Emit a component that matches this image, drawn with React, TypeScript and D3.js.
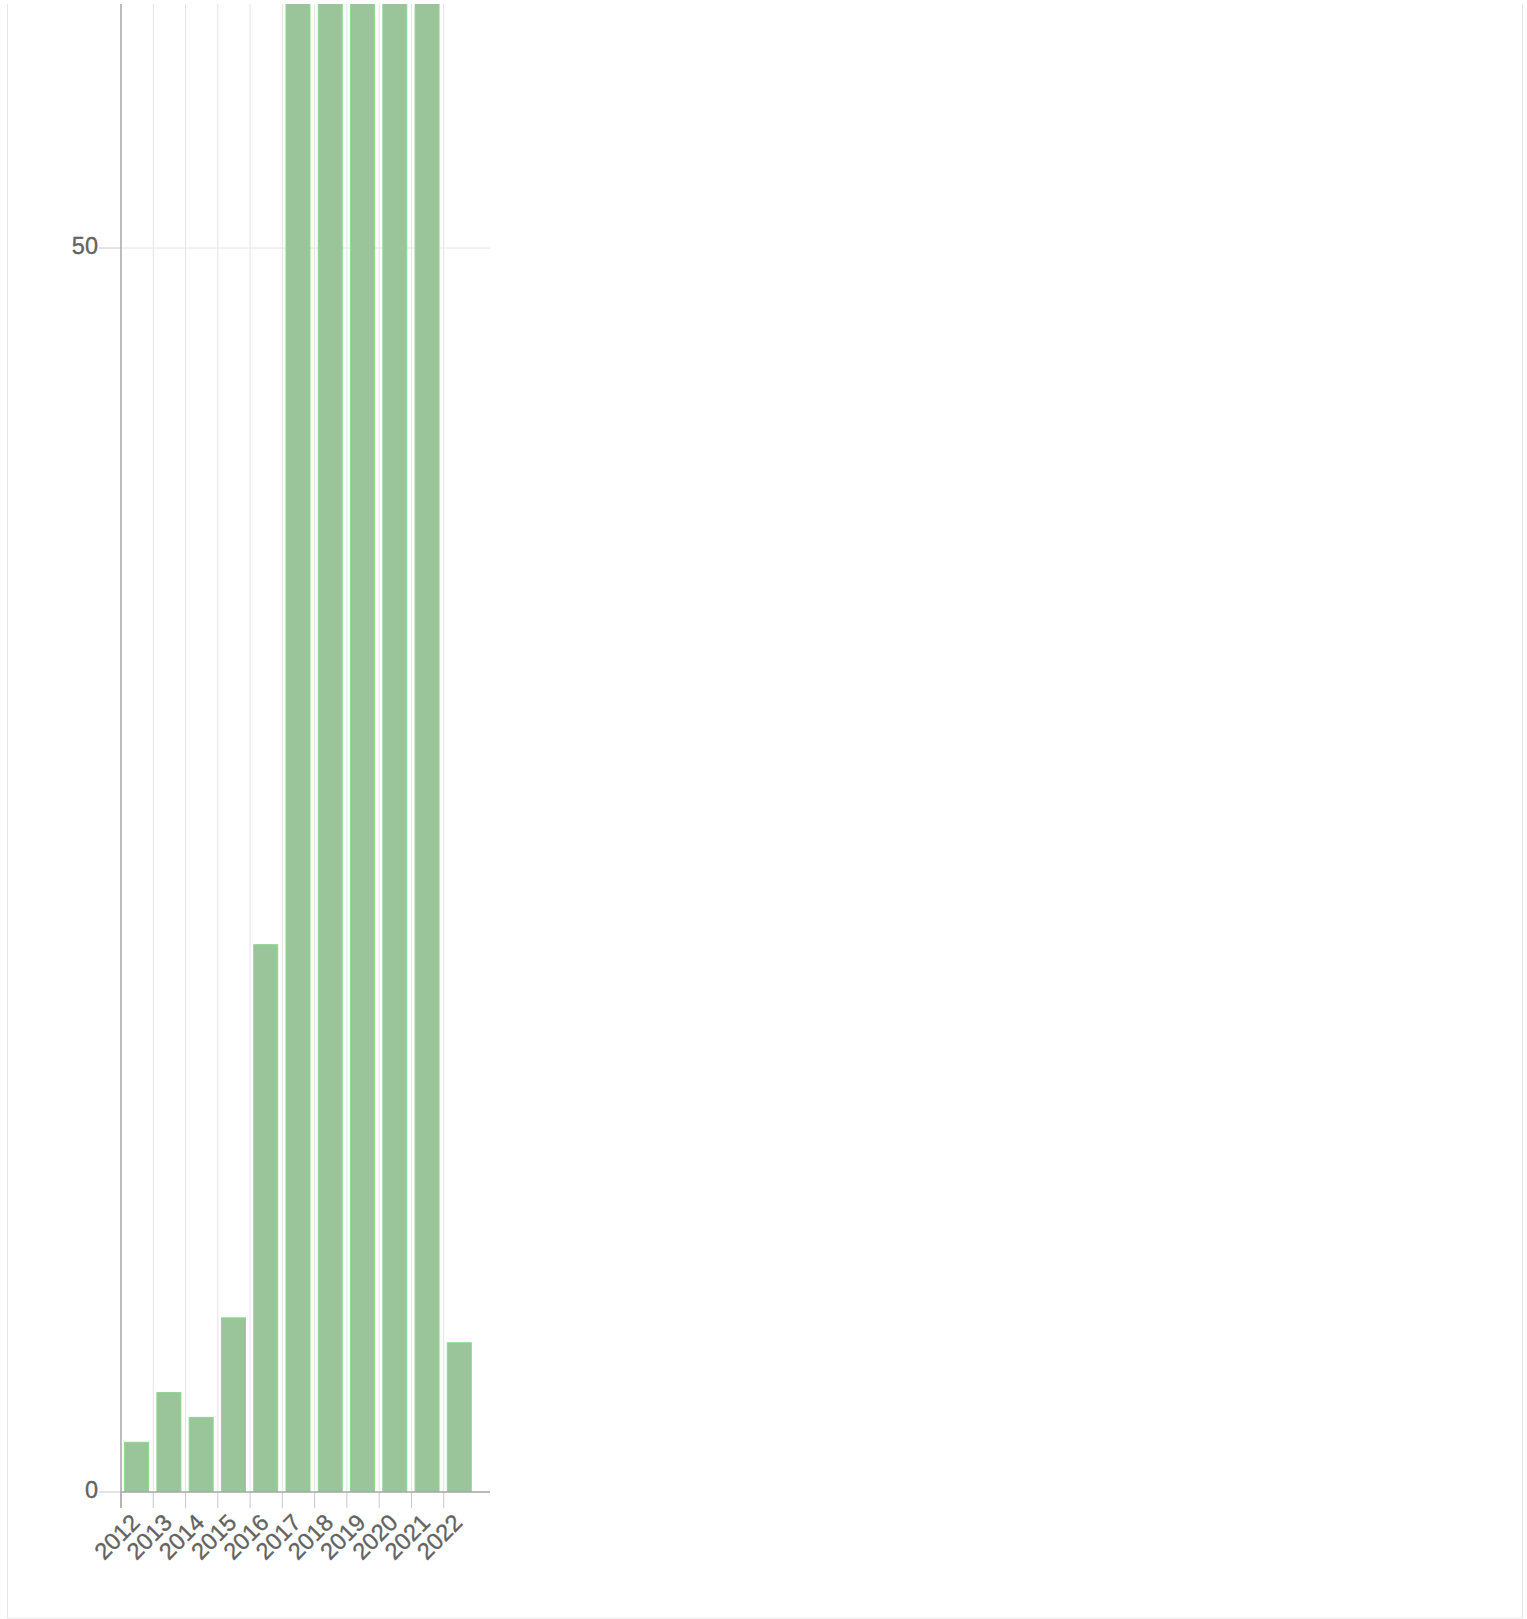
import React from "react";
import * as d3 from "d3";

const years = ["2012", "2013", "2014", "2015", "2016", "2017", "2018", "2019", "2020", "2021", "2022"];
const counts = [2, 4, 3, 7, 22, 75, 90, 100, 95, 85, 6];
const yTicks = [0, 50];

const W = 1527;
const H = 1619;

export default function App() {
  const plotLeft = 121;
  const plotRight = 490;
  const plotTop = 4;
  const plotBottom = 1492;
  const step = 32.27;

  const x = d3
    .scaleBand<string>()
    .domain(years)
    .range([plotLeft, plotLeft + step * years.length])
    .paddingInner(0.256)
    .paddingOuter(0.128);

  const y = d3.scaleLinear().domain([0, 50]).range([plotBottom, 248]);

  const boundary = (i: number) => plotLeft + i * x.step();
  const font = "'Liberation Sans', Arial, sans-serif";
  const textColor = "#636363";

  return (
    <svg
      width={W}
      height={H}
      style={{ position: "absolute", left: 0, top: 0, background: "#fff" }}
    >
      <defs>
        <clipPath id="plotclip">
          <rect x={plotLeft} y={plotTop} width={plotRight - plotLeft} height={plotBottom - plotTop} />
        </clipPath>
      </defs>
      {/* outer frame */}
      <line x1={7.5} x2={7.5} y1={4} y2={1618} stroke="#e6e6e6" />
      <line x1={1522.5} x2={1522.5} y1={4} y2={1618} stroke="#e6e6e6" />
      <line x1={7.5} x2={1522.5} y1={1618} y2={1618} stroke="#e6e6e6" />

      {/* vertical gridlines + ticks */}
      {years.map((yr, i) => (
        <g key={"g" + yr}>
          {i > 0 && (
            <line
              x1={boundary(i)}
              x2={boundary(i)}
              y1={plotTop}
              y2={plotBottom}
              stroke="#e4e4e4"
              strokeWidth={1}
            />
          )}
          <line
            x1={boundary(i)}
            x2={boundary(i)}
            y1={plotBottom}
            y2={plotBottom + 16}
            stroke="#c8c8c8"
            strokeWidth={1}
          />
        </g>
      ))}

      {/* horizontal gridlines & y ticks */}
      {yTicks.map((t) => (
        <g key={"yt" + t}>
          {t !== 0 && (
            <line x1={plotLeft} x2={plotRight} y1={y(t)} y2={y(t)} stroke="#e4e4e4" strokeWidth={1} />
          )}
          <line x1={99} x2={plotLeft} y1={y(t)} y2={y(t)} stroke="#c8c8c8" strokeWidth={1} />
          <text
            x={98}
            y={y(t) - 2}
            textAnchor="end"
            dominantBaseline="central"
            fontFamily={font}
            fontSize={23.5}
            fill={textColor}
            stroke={textColor}
            strokeWidth={0.35}
          >
            {t}
          </text>
        </g>
      ))}

      {/* bars */}
      <g clipPath="url(#plotclip)">
        {years.map((yr, i) => (
          <rect
            key={"b" + yr}
            x={(x(yr) as number) - 0.5}
            y={y(counts[i])}
            width={x.bandwidth()}
            height={y(0) - y(counts[i])}
            fill="#9ac49a"
            stroke="#8fd88f"
            strokeWidth={1}
          />
        ))}
      </g>

      {/* axes */}
      <line x1={plotLeft} x2={plotLeft} y1={plotTop} y2={plotBottom + 16} stroke="#a6a6a6" strokeWidth={1.5} />
      <line x1={plotLeft} x2={plotRight} y1={plotBottom} y2={plotBottom} stroke="#a6a6a6" strokeWidth={1.5} />

      {/* x labels */}
      {years.map((yr) => {
        const cx = (x(yr) as number) + x.bandwidth() / 2 + 4;
        const cy = plotBottom + 32;
        return (
          <text
            key={"l" + yr}
            x={cx}
            y={cy}
            textAnchor="end"
            transform={`rotate(-45 ${cx} ${cy})`}
            fontFamily={font}
            fontSize={23.5}
            fill={textColor}
            stroke={textColor}
            strokeWidth={0.35}
          >
            {yr}
          </text>
        );
      })}
    </svg>
  );
}
